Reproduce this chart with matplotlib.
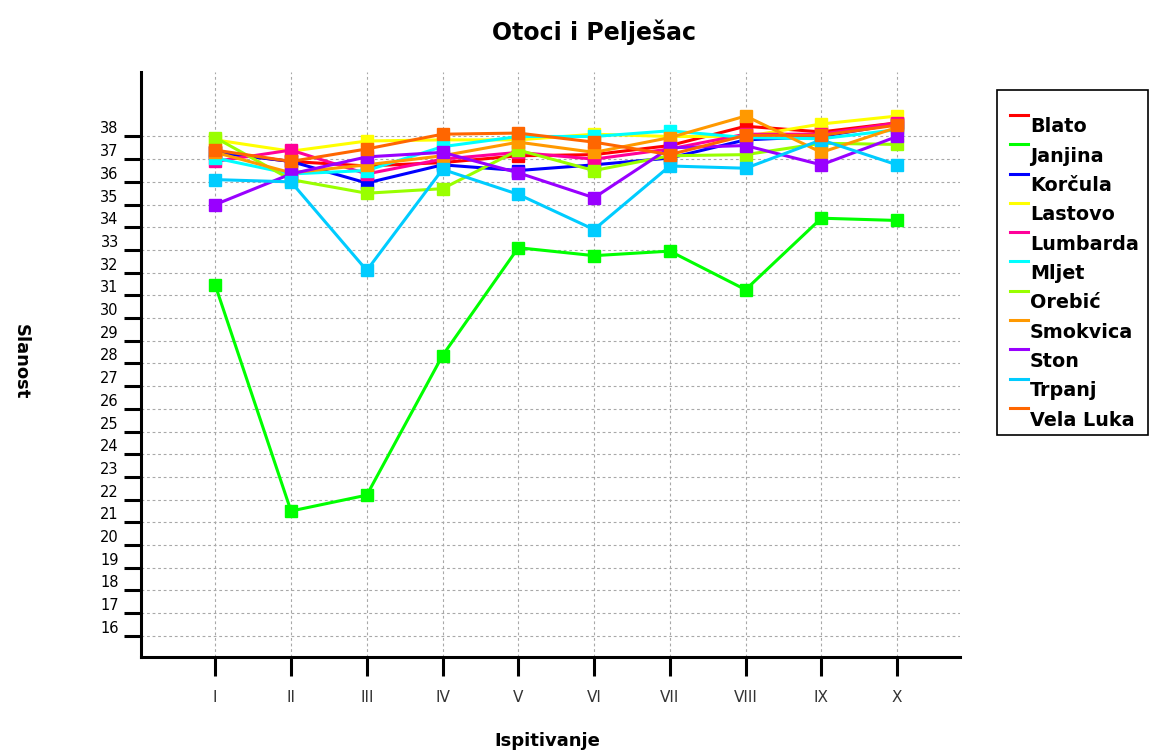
import matplotlib.pyplot as plt
from matplotlib.lines import Line2D
from matplotlib.patches import Rectangle

# Ispitivanja (mjerenja) I - X
ispitivanja = ['I', 'II', 'III', 'IV', 'V', 'VI', 'VII', 'VIII', 'IX', 'X']

# Slanost po mjestima
blato = [37.3, 36.9, 36.7, 36.85, 37.15, 37.2, 37.6, 38.45, 38.2, 38.6]
janjina = [31.45, 21.5, 22.2, 28.35, 33.1, 32.75, 32.95, 31.25, 34.4, 34.3]
korcula = [37.3, 36.9, 35.95, 36.75, 36.5, 36.75, 37.05, 37.85, 38.0, 38.55]
lastovo = [37.85, 37.35, 37.8, 37.85, 37.85, 38.1, 38.0, 38.0, 38.55, 38.9]
lumbarda = [36.9, 37.4, 36.35, 37.0, 37.3, 37.0, 37.45, 38.1, 38.1, 38.6]
mljet = [37.05, 36.35, 36.5, 37.55, 38.0, 38.0, 38.25, 37.95, 37.9, 38.3]
orebic = [37.95, 36.1, 35.5, 35.7, 37.4, 36.5, 37.15, 37.2, 37.7, 37.65]
smokvica = [37.3, 36.4, 36.75, 37.15, 37.75, 37.3, 37.95, 38.9, 37.3, 38.4]
ston = [35.0, 36.35, 37.1, 37.3, 36.4, 35.3, 37.5, 37.6, 36.75, 38.0]
trpanj = [36.1, 36.0, 32.1, 36.55, 35.45, 33.9, 36.7, 36.6, 37.85, 36.75]
vela_luka = [37.4, 36.9, 37.45, 38.1, 38.15, 37.75, 37.2, 38.05, 38.05, 38.5]

mjesta = ['Blato', 'Janjina', 'Korčula', 'Lastovo', 'Lumbarda', 'Mljet',
          'Orebić', 'Smokvica', 'Ston', 'Trpanj', 'Vela Luka']
serije = [blato, janjina, korcula, lastovo, lumbarda, mljet,
          orebic, smokvica, ston, trpanj, vela_luka]
boje = ['#ff0000', '#00ff00', '#0000ff', '#ffff00', '#ff0099', '#00ffff',
        '#99ff00', '#ff9900', '#9900ff', '#00ccff', '#ff6600']

W, H = 1155, 751


def fx(px):
    return px / W


def fy(py):
    return 1 - py / H


fig = plt.figure(figsize=(W / 100, H / 100), dpi=100)
ax = fig.add_axes([fx(141), fy(657), fx(960) - fx(141), fy(72) - fy(657)])

x = list(range(1, len(ispitivanja) + 1))
for vals, boja in zip(serije, boje):
    ax.plot(x, vals, color=boja, linewidth=2.2, marker='s', markersize=9)

ax.set_xlim(0.02, 10.83)
ax.set_ylim(15.07, 40.84)
ax.set_xticks(x)
ax.set_xticklabels(ispitivanja, fontsize=11, color='#333333')
ax.set_yticks(range(16, 39))
ax.set_yticklabels([str(v) for v in range(16, 39)], fontsize=10.5)
for lab in ax.get_yticklabels():
    lab.set_va('bottom')

ax.grid(True, color='#a8a8a8', linestyle=(0, (2.5, 2.5)), linewidth=0.8)
ax.set_axisbelow(True)
for s in ['top', 'right']:
    ax.spines[s].set_visible(False)
for s in ['left', 'bottom']:
    ax.spines[s].set_linewidth(2.2)
ax.tick_params(axis='y', length=12, width=2.2, pad=4)
ax.tick_params(axis='x', length=14, width=2.2, pad=10)

fig.text(fx(594), fy(32), 'Otoci i Pelješac', fontsize=17, fontweight='bold',
         ha='center', va='center')
fig.text(fx(547), fy(741), 'Ispitivanje', fontsize=13, fontweight='bold',
         ha='center', va='center')
fig.text(fx(21), fy(362), 'Slanost', fontsize=13, fontweight='bold',
         ha='center', va='center', rotation=-90)

# legenda
fig.add_artist(Rectangle((fx(997), fy(435)), fx(1148) - fx(997), fy(90) - fy(435),
                         transform=fig.transFigure, facecolor='white',
                         edgecolor='black', linewidth=1.2))
for i, (ime, boja) in enumerate(zip(mjesta, boje)):
    yc = 127 + 29.3 * i
    fig.add_artist(Line2D([fx(1010), fx(1028)], [fy(yc - 12), fy(yc - 12)],
                          transform=fig.transFigure, color=boja, linewidth=2.2))
    fig.text(fx(1030), fy(yc), ime, fontsize=13.8, fontweight='bold',
             ha='left', va='center')

fig.savefig('out.png', dpi=100)
